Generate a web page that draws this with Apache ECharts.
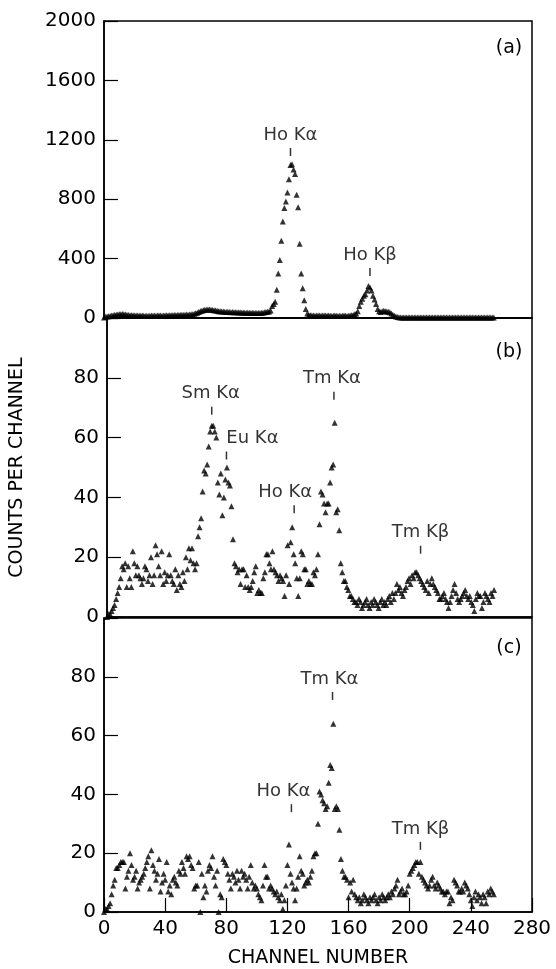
<!DOCTYPE html>
<html>
<head>
<meta charset="utf-8">
<script src="https://cdn.jsdelivr.net/npm/echarts@6/dist/echarts.min.js"></script>
<style>
  html, body { margin: 0; padding: 0; background: #fff; }
  #chart { width: 556px; height: 969px; }
</style>
</head>
<body>
<div id="chart"></div>
<script>
  // counts per channel, channel index = array index (0..255)
  const countsA = [
    4, 8, 10, 12, 14, 16, 18, 20, 22, 24, 25, 26, 27, 26, 24, 22,
    20, 19, 18, 18, 17, 16, 17, 16, 15, 16, 15, 14, 15, 14, 15, 16,
    15, 16, 15, 16, 17, 16, 15, 16, 17, 18, 17, 18, 19, 18, 20, 19,
    20, 21, 20, 22, 21, 22, 23, 22, 24, 25, 26, 28, 32, 36, 40, 45,
    48, 52, 55, 56, 58, 57, 56, 54, 52, 50, 48, 46, 45, 44, 43, 42,
    41, 42, 40, 39, 40, 38, 39, 38, 37, 38, 36, 37, 36, 35, 36, 35,
    34, 35, 34, 33, 34, 33, 34, 35, 36, 38, 40, 42, 44, 50, 80, 95,
    110, 190, 300, 390, 520, 650, 740, 785, 845, 935, 1030, 1035, 1000, 970, 830, 745,
    500, 300, 200, 120, 60, 30, 20, 18, 16, 17, 15, 16, 17, 16, 15, 16,
    17, 16, 15, 16, 15, 14, 15, 16, 15, 14, 15, 14, 15, 16, 15, 14,
    15, 16, 18, 20, 25, 30, 45, 80, 110, 130, 150, 160, 185, 215, 205, 185,
    150, 125, 95, 60, 45, 40, 45, 48, 46, 44, 42, 38, 30, 22, 15, 10,
    6, 5, 4, 4, 3, 4, 3, 3, 4, 3, 3, 4, 3, 3, 3, 4,
    3, 3, 4, 3, 3, 3, 4, 3, 3, 3, 3, 4, 3, 3, 3, 3,
    3, 3, 3, 4, 3, 3, 3, 3, 3, 3, 4, 3, 3, 3, 3, 3,
    3, 3, 3, 3, 3, 3, 3, 3, 3, 3, 3, 3, 3, 3, 3, 3
  ];
  const countsB = [
    0, 1, 1, 2, 3, 4, 6, 8, 10, 13, 17, 16, 18, 10, 17, 13,
    10, 22, 18, 14, 17, 14, 13, 11, 13, 17, 16, 12, 14, 20, 11, 14,
    24, 21, 17, 14, 22, 11, 15, 12, 14, 21, 14, 12, 11, 16, 9, 14,
    11, 10, 15, 12, 20, 16, 23, 19, 23, 18, 16, 18, 27, 30, 33, 42,
    49, 48, 51, 57, 62, 64, 64, 62, 60, 45, 41, 48, 34, 40, 46, 50,
    45, 44, 37, 26, 18, 17, 15, 16, 11, 16, 16, 10, 14, 10, 9, 10,
    12, 15, 17, 8, 9, 8, 8, 13, 15, 21, 21, 18, 16, 22, 16, 15,
    14, 12, 14, 13, 12, 7, 14, 24, 11, 25, 30, 21, 18, 13, 7, 13,
    22, 21, 16, 16, 11, 12, 11, 11, 15, 14, 16, 21, 31, 42, 41, 38,
    35, 38, 38, 45, 50, 51, 65, 35, 36, 29, 18, 15, 12, 12, 10, 9,
    7, 7, 6, 5, 5, 4, 6, 5, 3, 4, 5, 6, 4, 3, 5, 4,
    6, 5, 4, 3, 5, 6, 4, 5, 4, 6, 7, 5, 8, 6, 8, 11,
    9, 10, 8, 7, 9, 10, 12, 13, 11, 14, 13, 15, 15, 14, 13, 12,
    11, 10, 9, 12, 8, 11, 13, 11, 10, 9, 8, 6, 6, 7, 8, 6,
    5, 3, 5, 7, 9, 11, 8, 6, 5, 6, 7, 8, 9, 7, 6, 7,
    5, 4, 2, 6, 8, 7, 7, 3, 5, 8, 7, 6, 5, 8, 7, 9
  ];
  const countsC = [
    0, 1, 1, 2, 3, 6, 9, 11, 15, 15, 16, 17, 17, 17, 8, 12,
    14, 20, 16, 11, 12, 14, 8, 10, 11, 12, 13, 15, 17, 19, 8, 21,
    16, 14, 11, 13, 18, 7, 10, 13, 11, 17, 7, 9, 6, 11, 12, 10,
    9, 14, 13, 17, 15, 13, 19, 18, 19, 16, 15, 8, 9, 9, 17, 0,
    13, 5, 9, 7, 14, 16, 15, 19, 12, 9, 14, 0, 6, 5, 18, 17,
    16, 13, 11, 8, 13, 12, 10, 14, 11, 8, 14, 12, 13, 11, 8, 12,
    16, 10, 8, 9, 8, 6, 5, 4, 9, 16, 12, 12, 8, 9, 8, 7,
    6, 7, 5, 4, 6, 1, 4, 9, 16, 23, 13, 10, 8, 4, 8, 12,
    19, 14, 13, 9, 10, 11, 10, 12, 14, 19, 20, 20, 30, 41, 40, 38,
    37, 35, 36, 44, 50, 49, 64, 35, 36, 35, 28, 18, 14, 12, 12, 11,
    5, 10, 7, 11, 6, 5, 4, 5, 3, 4, 6, 5, 4, 3, 5, 4,
    5, 6, 4, 3, 5, 4, 6, 5, 4, 5, 6, 5, 7, 6, 8, 9,
    11, 6, 7, 8, 6, 6, 7, 9, 13, 14, 15, 16, 17, 17, 13, 17,
    12, 11, 10, 9, 8, 9, 11, 12, 9, 8, 10, 9, 8, 7, 7, 6,
    7, 7, 3, 5, 4, 11, 10, 9, 7, 7, 8, 7, 10, 9, 8, 6,
    4, 2, 5, 7, 4, 6, 5, 3, 6, 5, 3, 7, 6, 8, 7, 6
  ];

  const xTicks = [0, 40, 80, 120, 160, 200, 240, 280];
  const yTicksA = [0, 400, 800, 1200, 1600, 2000];
  const yTicksBC = [0, 20, 40, 60, 80];

  // peak markers: [label, channel, counts at marker, label shift in px]
  const peaksA = [
    ['Ho Kα', 122, 1118, 0],
    ['Ho Kβ', 174, 310, 0]
  ];
  const peaksB = [
    ['Sm Kα', 69, 69, -1],
    ['Eu Kα', 78.7, 54, 26],
    ['Ho Kα', 123.3, 36, -9],
    ['Tm Kα', 149.5, 74, -2],
    ['Tm Kβ', 206.6, 22.5, 0]
  ];
  const peaksC = [
    ['Ho Kα', 122.6, 35.3, -8],
    ['Tm Kα', 149.5, 73.5, -3],
    ['Tm Kβ', 207, 22.5, 0]
  ];
  const panelNames = ['(a)', '(b)', '(c)'];

  const FONT = 'DejaVu Sans';
  const chart = echarts.init(document.getElementById('chart'));

  const grids = [
    { left: 104, right: 24, top: 21, height: 297 },
    { left: 104, right: 24, top: 318, height: 299 },
    { left: 104, right: 24, top: 618, height: 300 }
  ].map(g => Object.assign(g, { show: true, borderColor: '#000', borderWidth: 1.5, backgroundColor: 'transparent' }));

  function xAxis(i) {
    const last = i === 2;
    return {
      type: 'value', gridIndex: i, min: xTicks[0], max: xTicks[xTicks.length - 1], interval: 40,
      axisLine: { show: true, lineStyle: { color: '#000', width: 1.5 } },
      axisTick: { show: last, inside: true, length: 14, lineStyle: { color: '#000', width: 1.2 } },
      axisLabel: { show: last, color: '#000', fontFamily: FONT, fontSize: 20, margin: 7 },
      splitLine: { show: false },
      name: last ? 'CHANNEL NUMBER' : '',
      nameLocation: 'middle', nameGap: 37,
      nameTextStyle: { color: '#000', fontFamily: FONT, fontSize: 19 }
    };
  }

  function yAxis(i) {
    const isA = i === 0;
    return {
      type: 'value', gridIndex: i, min: 0, max: isA ? 2000 : 100, interval: isA ? 400 : 20,
      axisLine: { show: true, lineStyle: { color: '#000', width: 1.5 } },
      axisTick: { show: true, inside: true, length: 14, lineStyle: { color: '#000', width: 1.2 } },
      axisLabel: {
        color: '#000', fontFamily: FONT, fontSize: 20, margin: 8,
        formatter: v => (isA ? yTicksA : yTicksBC).includes(v) ? String(v) : ''
      },
      splitLine: { show: false },
      name: i === 1 ? 'COUNTS PER CHANNEL' : '',
      nameLocation: 'middle', nameGap: 80, nameRotate: 90,
      nameTextStyle: { color: '#000', fontFamily: FONT, fontSize: 19 }
    };
  }

  function pointSeries(i, counts) {
    return {
      type: 'scatter', xAxisIndex: i, yAxisIndex: i,
      symbol: 'triangle', symbolSize: 6,
      itemStyle: { color: '#000' },
      silent: true,
      data: counts.map((c, ch) => [ch, c])
    };
  }

  function peakSeries(i, peaks) {
    return {
      type: 'scatter', xAxisIndex: i, yAxisIndex: i,
      symbol: 'rect', symbolSize: [1.5, 8],
      itemStyle: { color: '#000' },
      silent: true,
      z: 5,
      data: peaks.map(p => ({
        name: p[0], value: [p[1], p[2]],
        label: { offset: [p[3], 0] }
      })),
      label: {
        show: true, position: 'top', distance: 4, formatter: '{b}',
        color: '#000', fontFamily: FONT, fontSize: 18
      }
    };
  }

  const option = {
    backgroundColor: '#fff',
    animation: false,
    grid: grids,
    xAxis: [0, 1, 2].map(xAxis),
    yAxis: [0, 1, 2].map(yAxis),
    graphic: panelNames.map((t, i) => ({
      type: 'text', x: 509, y: [48, 352, 648][i],
      style: { text: t, fill: '#000', font: '19px "DejaVu Sans"', textAlign: 'center', textVerticalAlign: 'middle' }
    })),
    series: [
      pointSeries(0, countsA), pointSeries(1, countsB), pointSeries(2, countsC),
      peakSeries(0, peaksA), peakSeries(1, peaksB), peakSeries(2, peaksC)
    ]
  };

  chart.setOption(option);
</script>
</body>
</html>
